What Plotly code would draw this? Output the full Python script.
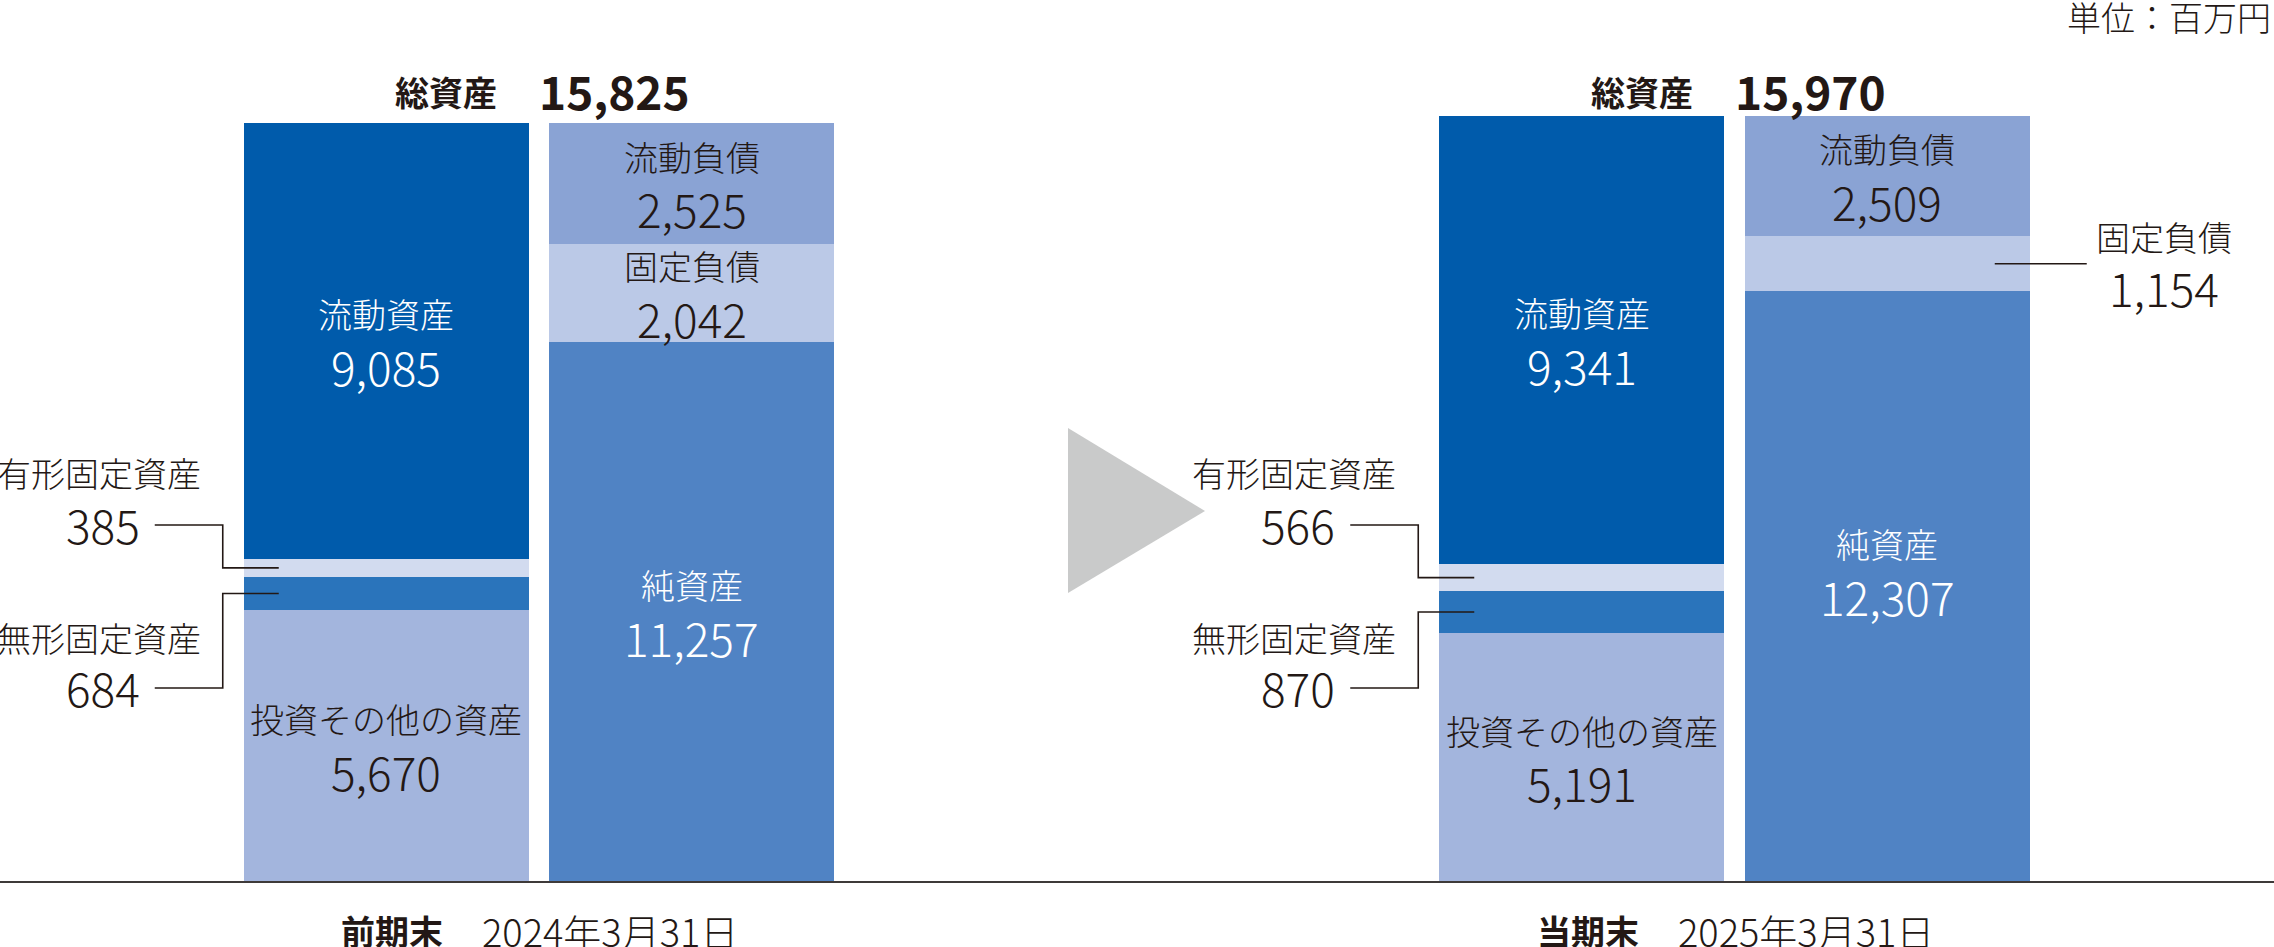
import plotly.graph_objects as go

# values in millions of yen (単位：百万円)
periods = ["前期末", "当期末"]
dates = ["2024年3月31日", "2025年3月31日"]
total_assets = [15825, 15970]

current_assets = [9085, 9341]      # 流動資産
tangible_assets = [385, 566]       # 有形固定資産
intangible_assets = [684, 870]     # 無形固定資産
investments = [5670, 5191]         # 投資その他の資産

current_liab = [2525, 2509]        # 流動負債
fixed_liab = [2042, 1154]          # 固定負債
net_assets = [11257, 12307]        # 純資産

# page geometry (px)
W, H = 2274, 947
BASE_PX = 882            # pixel row of the zero line
UNIT = 20.84             # yen-millions per pixel
group_centers = [539, 1734.5]
bar_w = 285
half_pitch = 152.75

TXT = "#231815"
FONT = "Noto Sans CJK JP"


def py(pixel):
    # pixel row -> y value on the axis
    return (BASE_PX - pixel) * UNIT


asset_x = [c - half_pitch for c in group_centers]
liab_x = [c + half_pitch for c in group_centers]

fig = go.Figure()

asset_stack = [
    ("投資その他の資産", investments, "#a3b5dd", TXT),
    ("無形固定資産", intangible_assets, "#2a74bb", "white"),
    ("有形固定資産", tangible_assets, "#d2dbef", TXT),
    ("流動資産", current_assets, "#005bab", "white"),
]
liab_stack = [
    ("純資産", net_assets, "#5083c4", "white"),
    ("固定負債", fixed_liab, "#bbc9e7", TXT),
    ("流動負債", current_liab, "#8aa3d4", TXT),
]

for name, vals, color, _ in asset_stack:
    fig.add_trace(go.Bar(x=asset_x, y=vals, width=bar_w, name=name,
                         marker=dict(color=color, line=dict(width=0))))
for name, vals, color, _ in liab_stack:
    fig.add_trace(go.Bar(x=liab_x, y=vals, width=bar_w, name=name,
                         marker=dict(color=color, line=dict(width=0))))

annotations = []
shapes = []


def add_text(x, y, text, size, color=TXT, xanchor="center", yshift=0, bold=False, weight=None, xref="x", yref="y"):
    if bold:
        text = "<b>" + text + "</b>"
    f = dict(family=FONT, size=size, color=color)
    if weight:
        f["weight"] = weight
    annotations.append(dict(x=x, y=y, xref=xref, yref=yref, text=text, showarrow=False,
                            xanchor=xanchor, yanchor="middle", yshift=yshift,
                            font=f, borderpad=0))


def path(points):
    d = "M " + " L ".join(f"{x},{y}" for x, y in points)
    shapes.append(dict(type="path", path=d, xref="x", yref="y",
                       line=dict(color=TXT, width=1.6), layer="above"))


# small shift of a few labels as in the original artwork
label_nudge = {("純資産", 1): 16}

for i in range(2):
    # segment labels inside the bars
    for stack, bx in ((asset_stack, asset_x[i]), (liab_stack, liab_x[i])):
        bottom = 0
        for name, vals, color, tcol in stack:
            v = vals[i]
            mid = bottom + v / 2
            bottom += v
            if name in ("有形固定資産", "無形固定資産"):
                continue
            if name == "固定負債" and v < 1500:
                continue
            nud = label_nudge.get((name, i), 0)
            add_text(bx, mid, name, 34, tcol, yshift=27 + nud, weight=300)
            add_text(bx, mid, f"{v:,}", 46, tcol, yshift=-25 + nud, weight=300)

    # leader labels for the fixed assets
    left = asset_x[i] - bar_w / 2
    tang_mid = investments[i] + intangible_assets[i] + tangible_assets[i] / 2
    intang_mid = investments[i] + intangible_assets[i] / 2

    add_text(left - 42, py(472), "有形固定資産", 34, xanchor="right", weight=300)
    add_text(left - 103, py(524), f"{tangible_assets[i]:,}", 46, xanchor="right", weight=300)
    path([(left - 89, py(525)), (left - 21, py(525)), (left - 21, tang_mid), (left + 35, tang_mid)])

    add_text(left - 42, py(637), "無形固定資産", 34, xanchor="right", weight=300)
    add_text(left - 103, py(687), f"{intangible_assets[i]:,}", 46, xanchor="right", weight=300)
    path([(left + 35, intang_mid), (left - 21, intang_mid), (left - 21, py(688)), (left - 89, py(688))])

    # small fixed liabilities go outside with a leader
    if fixed_liab[i] < 1500:
        right = liab_x[i] + bar_w / 2
        fl_mid = net_assets[i] + fixed_liab[i] / 2
        path([(right - 35, fl_mid), (right + 57, fl_mid)])
        add_text(right + 134, fl_mid, "固定負債", 34, yshift=27, weight=300)
        add_text(right + 134, fl_mid, f"{fixed_liab[i]:,}", 46, yshift=-23, weight=300)

    # totals above each pair
    cx = group_centers[i]
    add_text(cx - 41, py(91), "総資産", 34, xanchor="right", bold=True)
    add_text(cx - 1, py(90), f"{total_assets[i]:,}", 46, xanchor="left", bold=True)

    # period labels under the baseline
    add_text(cx - 95, py(930), periods[i], 34, xanchor="right", bold=True)
    add_text(cx - 58, py(930), dates[i], 38, xanchor="left", weight=300)

# unit
add_text(0.999, 1 - 17 / H, "単位：百万円", 34, xanchor="right", xref="paper", yref="paper", weight=300)

# baseline
shapes.append(dict(type="line", xref="x", yref="y", x0=0, x1=W, y0=0, y1=0,
                   line=dict(color="#3e3a39", width=2), layer="above"))

# grey arrow between the two periods
shapes.append(dict(type="path", xref="x", yref="y",
                   path=f"M 1068,{py(428)} L 1205,{py(511)} L 1068,{py(593)} Z",
                   fillcolor="#c9caca", line=dict(width=0)))

fig.update_layout(
    barmode="stack",
    width=W, height=H,
    margin=dict(l=0, r=0, t=0, b=0, pad=0),
    paper_bgcolor="white",
    plot_bgcolor="white",
    showlegend=False,
    annotations=annotations,
    shapes=shapes,
    xaxis=dict(range=[0, W], visible=False, fixedrange=True),
    yaxis=dict(range=[py(H), py(0)], visible=False, fixedrange=True),
    font=dict(family=FONT, color=TXT),
)

# drop the default page margin so the figure fills the window exactly
fig.write_html("out.html", config={"displayModeBar": False},
               post_script="document.body.style.margin='0';")
